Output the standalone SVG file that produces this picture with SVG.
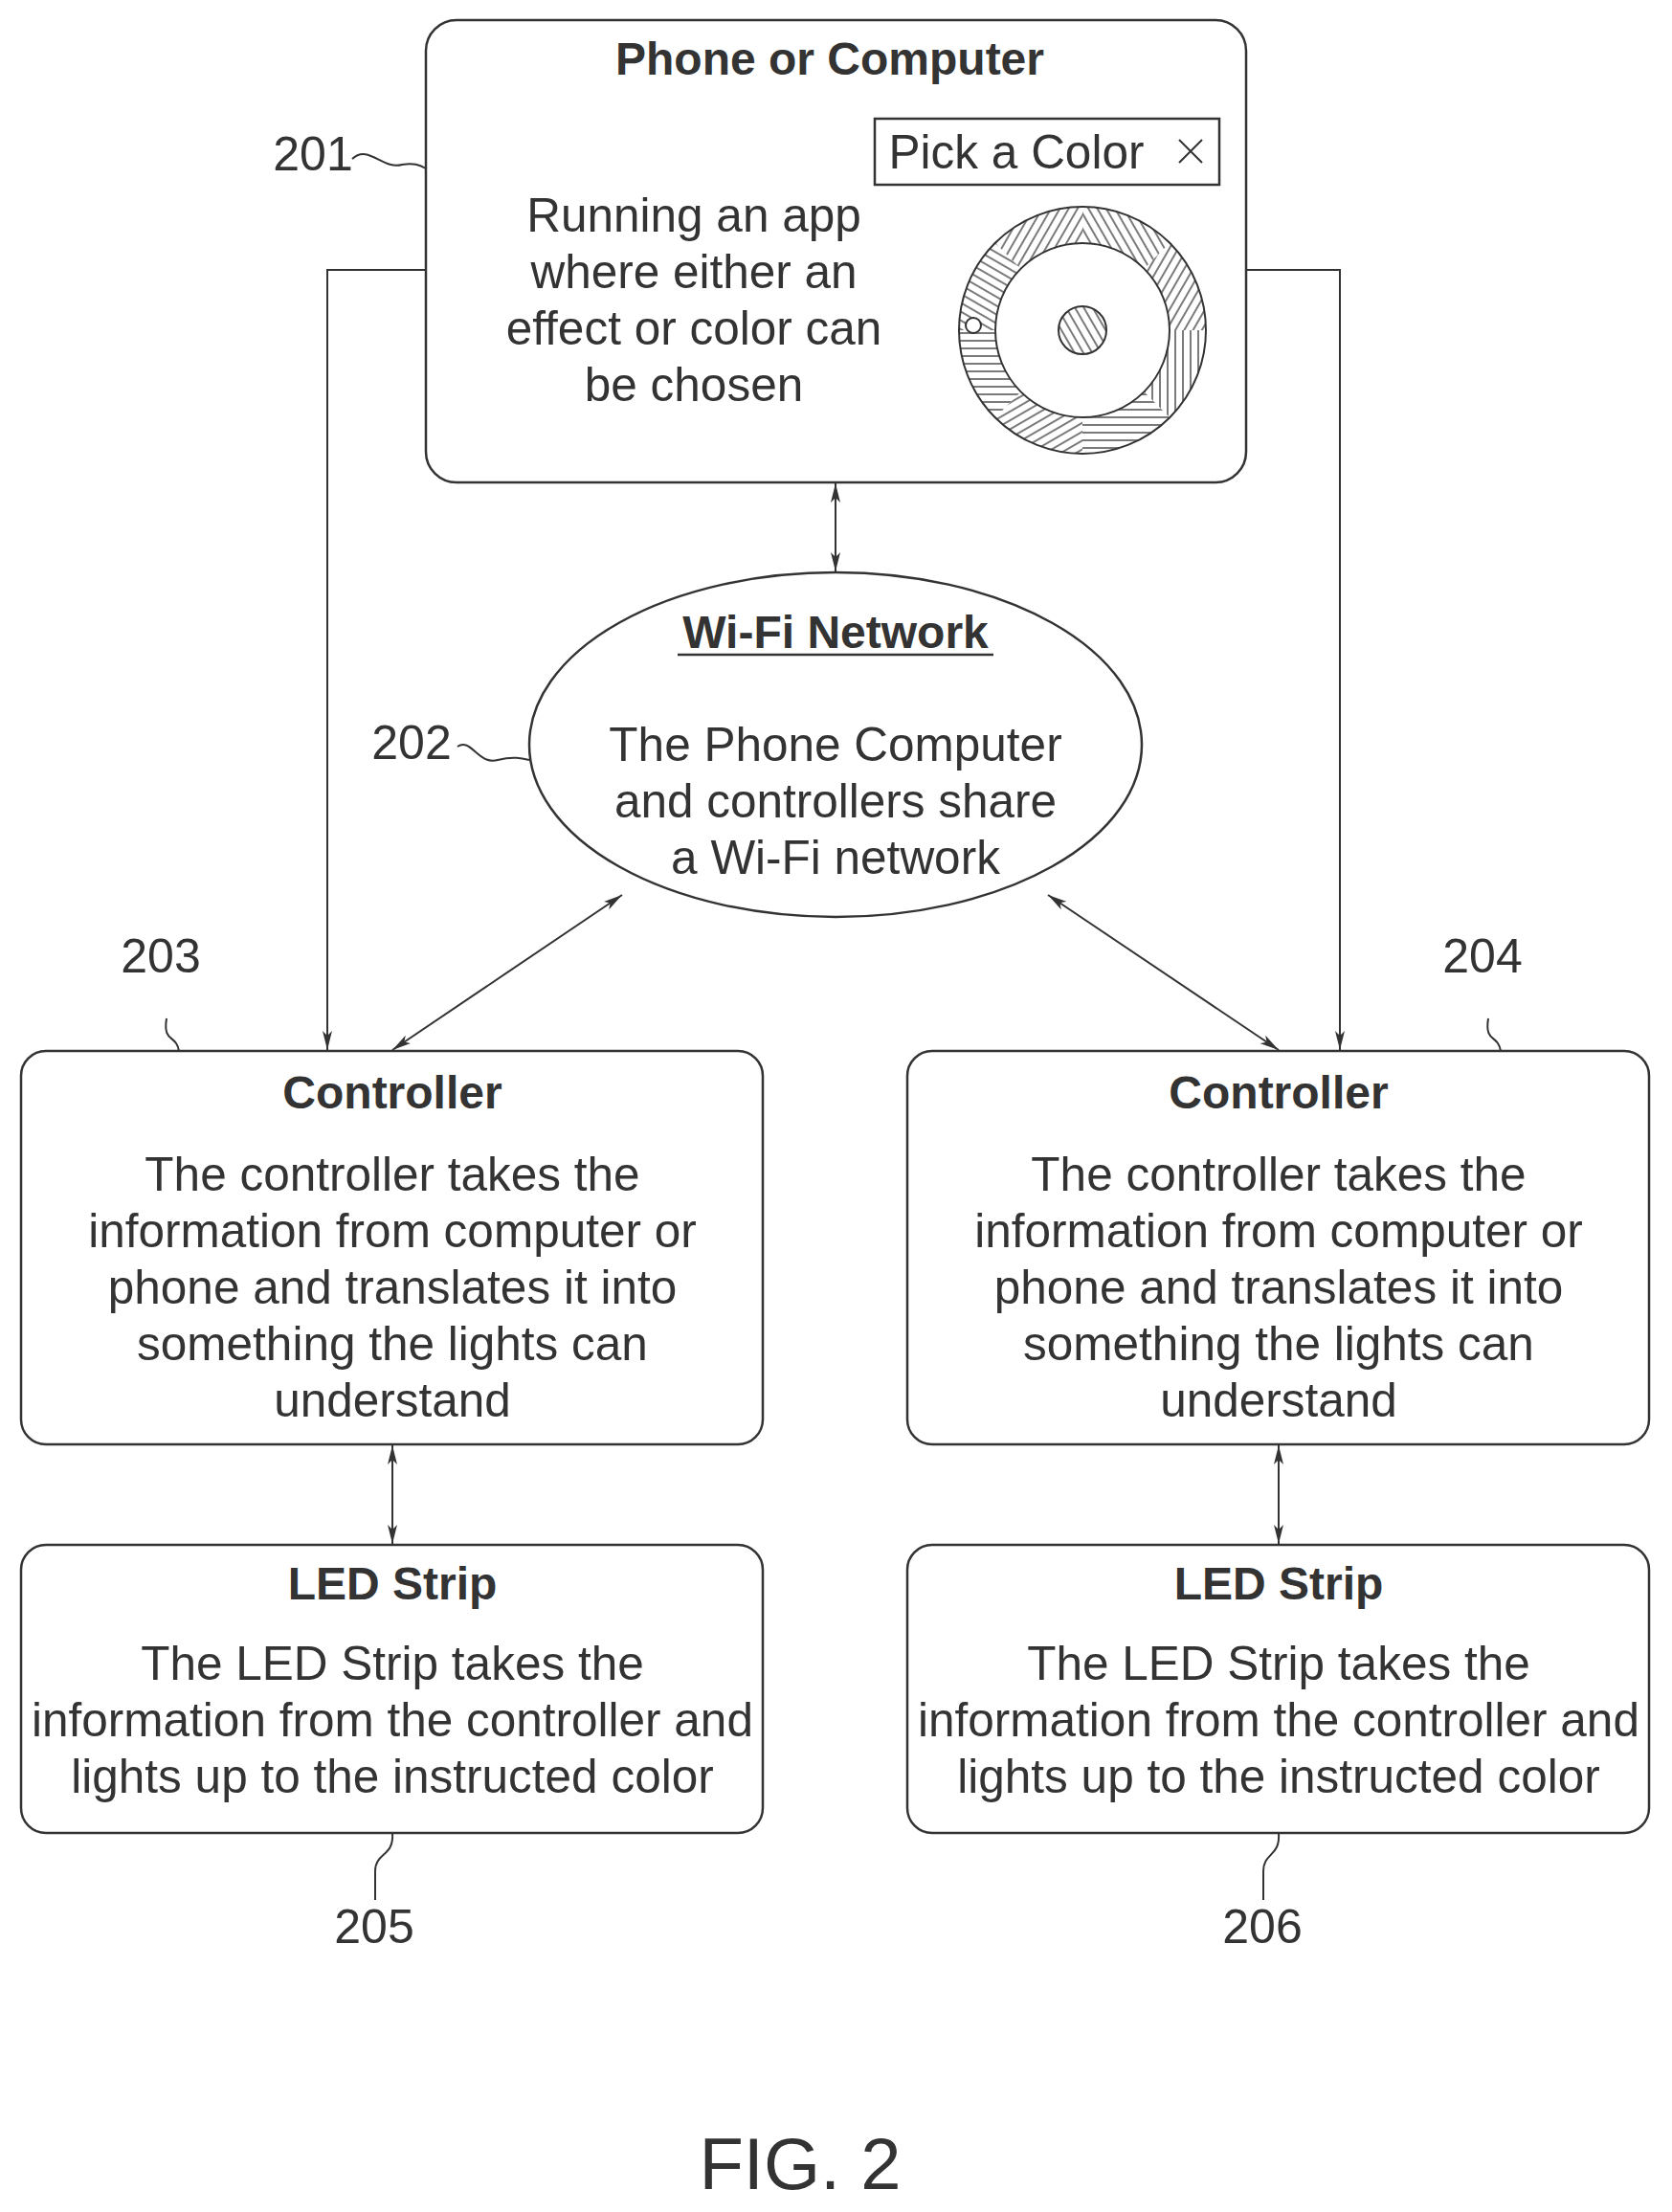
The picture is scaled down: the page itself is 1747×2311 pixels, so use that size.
<svg xmlns="http://www.w3.org/2000/svg" width="1747" height="2311" viewBox="0 0 1747 2311">
<style>
text{font-family:"Liberation Sans",Arial,sans-serif;fill:#333;text-anchor:middle}
.t{font-size:48px;font-weight:bold}
.b{font-size:49.5px}
.n{font-size:50px}
.box{fill:#fff;stroke:#333;stroke-width:2.5}
.ln{fill:none;stroke:#333;stroke-width:2}
.seg{fill:none;stroke-width:38}
</style>
<defs>
<marker id="ah" viewBox="0 0 20 10" refX="20" refY="5" markerWidth="20" markerHeight="10" markerUnits="userSpaceOnUse" orient="auto-start-reverse"><path d="M0,0 L20,5 L0,10 L5,5 Z" fill="#333"/></marker>
<pattern id="h0" width="8" height="8" patternUnits="userSpaceOnUse" patternTransform="rotate(0)"><line x1="0" y1="4" x2="8" y2="4" stroke="#333" stroke-width="1.3"/></pattern>
<pattern id="h1" width="8" height="8" patternUnits="userSpaceOnUse" patternTransform="rotate(30)"><line x1="0" y1="4" x2="8" y2="4" stroke="#333" stroke-width="1.3"/></pattern>
<pattern id="h2" width="8" height="8" patternUnits="userSpaceOnUse" patternTransform="rotate(60)"><line x1="0" y1="4" x2="8" y2="4" stroke="#333" stroke-width="1.3"/></pattern>
<pattern id="h3" width="8" height="8" patternUnits="userSpaceOnUse" patternTransform="rotate(90)"><line x1="0" y1="4" x2="8" y2="4" stroke="#333" stroke-width="1.3"/></pattern>
<pattern id="h4" width="8" height="8" patternUnits="userSpaceOnUse" patternTransform="rotate(120)"><line x1="0" y1="4" x2="8" y2="4" stroke="#333" stroke-width="1.3"/></pattern>
<pattern id="h5" width="8" height="8" patternUnits="userSpaceOnUse" patternTransform="rotate(150)"><line x1="0" y1="4" x2="8" y2="4" stroke="#333" stroke-width="1.3"/></pattern>
</defs>

<g id="n201">
<rect class="box" x="445" y="21" width="857" height="483" rx="32"/>
<text class="t" x="867" y="78">Phone or Computer</text>
<rect x="914" y="124" width="360" height="69" fill="none" stroke="#333" stroke-width="2.5"/>
<text class="b" x="1062" y="176">Pick a Color</text>
<path class="ln" d="M1232,146 L1256,170 M1256,146 L1232,170"/>
<text class="b" x="725" y="242">Running an app</text>
<text class="b" x="725" y="301">where either an</text>
<text class="b" x="725" y="360">effect or color can</text>
<text class="b" x="725" y="419">be chosen</text>
<g id="wheel">
<circle class="seg" cx="1131" cy="345" r="110" pathLength="8" stroke="url(#h3)" stroke-dasharray="1 7" stroke-dashoffset="0"/>
<circle class="seg" cx="1131" cy="345" r="110" pathLength="8" stroke="url(#h0)" stroke-dasharray="1 7" stroke-dashoffset="-1"/>
<circle class="seg" cx="1131" cy="345" r="110" pathLength="8" stroke="url(#h5)" stroke-dasharray="1 7" stroke-dashoffset="-2"/>
<circle class="seg" cx="1131" cy="345" r="110" pathLength="8" stroke="url(#h0)" stroke-dasharray="1 7" stroke-dashoffset="-3"/>
<circle class="seg" cx="1131" cy="345" r="110" pathLength="8" stroke="url(#h1)" stroke-dasharray="1 7" stroke-dashoffset="-4"/>
<circle class="seg" cx="1131" cy="345" r="110" pathLength="8" stroke="url(#h4)" stroke-dasharray="1 7" stroke-dashoffset="-5"/>
<circle class="seg" cx="1131" cy="345" r="110" pathLength="8" stroke="url(#h2)" stroke-dasharray="1 7" stroke-dashoffset="-6"/>
<circle class="seg" cx="1131" cy="345" r="110" pathLength="8" stroke="url(#h4)" stroke-dasharray="1 7" stroke-dashoffset="-7"/>
<circle cx="1131" cy="345" r="129" class="ln"/>
<circle cx="1131" cy="345" r="91" class="ln"/>
<circle cx="1131" cy="345" r="25" fill="url(#h2)" stroke="#333" stroke-width="2"/>
<circle cx="1017" cy="340" r="8" fill="#fff" stroke="#333" stroke-width="2"/>
</g>
</g>
<text class="n" x="327" y="178">201</text>
<path class="ln" d="M368,166 C385,150 400,178 420,172 C432,170 438,172 445,176"/>

<g id="n202">
<ellipse class="box" cx="873" cy="778" rx="320" ry="180"/>
<text class="t" x="873" y="677">Wi-Fi Network</text>
<line x1="708" y1="684" x2="1038" y2="684" stroke="#333" stroke-width="2.5"/>
<text class="b" x="873" y="795">The Phone Computer</text>
<text class="b" x="873" y="854">and controllers share</text>
<text class="b" x="873" y="913">a Wi-Fi network</text>
</g>
<text class="n" x="430" y="793">202</text>
<path class="ln" d="M478,780 C492,770 500,800 520,794 C536,790 545,792 553,794"/>

<g id="n203">
<rect class="box" x="22" y="1098" width="775" height="411" rx="26"/>
<text class="t" x="410" y="1158">Controller</text>
<text class="b" x="410" y="1244">The controller takes the</text>
<text class="b" x="410" y="1303">information from computer or</text>
<text class="b" x="410" y="1362">phone and translates it into</text>
<text class="b" x="410" y="1421">something the lights can</text>
<text class="b" x="410" y="1480">understand</text>
</g>
<text class="n" x="168" y="1016">203</text>
<path class="ln" d="M174,1064 C170,1090 184,1080 187,1098"/>

<g id="n204">
<rect class="box" x="948" y="1098" width="775" height="411" rx="26"/>
<text class="t" x="1336" y="1158">Controller</text>
<text class="b" x="1336" y="1244">The controller takes the</text>
<text class="b" x="1336" y="1303">information from computer or</text>
<text class="b" x="1336" y="1362">phone and translates it into</text>
<text class="b" x="1336" y="1421">something the lights can</text>
<text class="b" x="1336" y="1480">understand</text>
</g>
<text class="n" x="1549" y="1016">204</text>
<path class="ln" d="M1555,1064 C1551,1090 1565,1080 1568,1098"/>

<g id="n205">
<rect class="box" x="22" y="1614" width="775" height="301" rx="26"/>
<text class="t" x="410" y="1671">LED Strip</text>
<text class="b" x="410" y="1755">The LED Strip takes the</text>
<text class="b" x="410" y="1814">information from the controller and</text>
<text class="b" x="410" y="1873">lights up to the instructed color</text>
</g>
<text class="n" x="391" y="2030">205</text>
<path class="ln" d="M410,1915 C412,1940 392,1935 392,1955 L392,1985"/>

<g id="n206">
<rect class="box" x="948" y="1614" width="775" height="301" rx="26"/>
<text class="t" x="1336" y="1671">LED Strip</text>
<text class="b" x="1336" y="1755">The LED Strip takes the</text>
<text class="b" x="1336" y="1814">information from the controller and</text>
<text class="b" x="1336" y="1873">lights up to the instructed color</text>
</g>
<text class="n" x="1319" y="2030">206</text>
<path class="ln" d="M1336,1915 C1338,1940 1320,1935 1320,1955 L1320,1985"/>

<g id="connectors" class="ln">
<path class="ln" d="M445,282 L342,282 L342,1097" marker-end="url(#ah)"/>
<path class="ln" d="M1302,282 L1400,282 L1400,1097" marker-end="url(#ah)"/>
<line class="ln" x1="873" y1="505" x2="873" y2="597" marker-start="url(#ah)" marker-end="url(#ah)"/>
<line class="ln" x1="650" y1="935" x2="410" y2="1097" marker-start="url(#ah)" marker-end="url(#ah)"/>
<line class="ln" x1="1095" y1="935" x2="1336" y2="1097" marker-start="url(#ah)" marker-end="url(#ah)"/>
<line class="ln" x1="410" y1="1510" x2="410" y2="1613" marker-start="url(#ah)" marker-end="url(#ah)"/>
<line class="ln" x1="1336" y1="1510" x2="1336" y2="1613" marker-start="url(#ah)" marker-end="url(#ah)"/>
</g>

<text x="836" y="2287" style="font-size:76px">FIG. 2</text>
</svg>
